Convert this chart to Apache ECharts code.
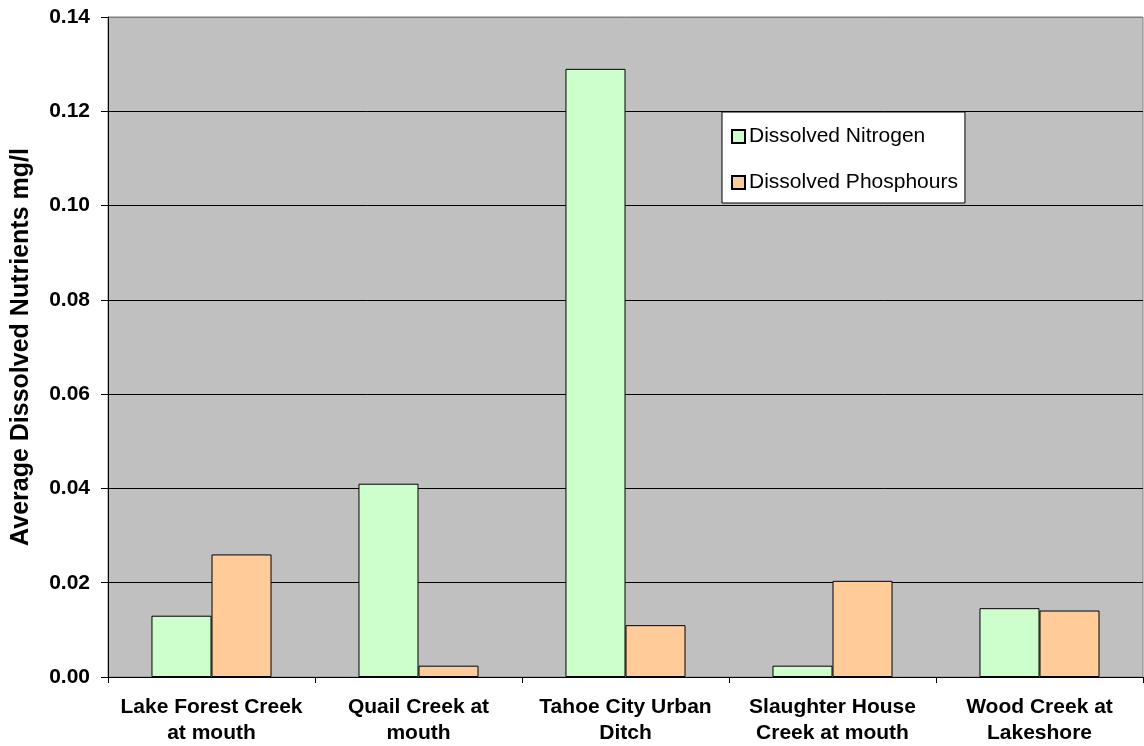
<!DOCTYPE html>
<html>
<head>
<meta charset="utf-8">
<script src="https://cdn.jsdelivr.net/npm/echarts@6/dist/echarts.min.js"></script>
<style>
html,body{margin:0;padding:0;background:#fff;}
#chart{width:1144px;height:746px;}
</style>
</head>
<body>
<div id="chart"></div>
<script>
var categories = [
  'Lake Forest Creek\nat mouth',
  'Quail Creek at\nmouth',
  'Tahoe City Urban\nDitch',
  'Slaughter House\nCreek at mouth',
  'Wood Creek at\nLakeshore'
];
var nitrogen = [0.013, 0.041, 0.129, 0.0024, 0.0146];
var phosphorus = [0.026, 0.0024, 0.011, 0.0204, 0.0141];
var seriesNames = ['Dissolved Nitrogen', 'Dissolved Phosphours'];
var yAxisTitle = 'Average Dissolved Nutrients mg/l';

var FONT = '"Liberation Sans", Arial, sans-serif';
var chart = echarts.init(document.getElementById('chart'), null, {renderer: 'canvas'});
chart.setOption({
  animation: false,
  backgroundColor: '#ffffff',
  textStyle: {fontFamily: FONT},
  grid: {
    left: 108, right: 1, top: 17, bottom: 69,
    show: true, backgroundColor: '#c0c0c0', borderColor: '#808080', borderWidth: 1
  },
  legend: {
    orient: 'vertical',
    left: 722, top: 112,
    padding: [14, 7, 10, 9],
    itemGap: 25,
    itemWidth: 13, itemHeight: 13,
    backgroundColor: '#ffffff',
    borderColor: '#000000', borderWidth: 1,
    textStyle: {fontFamily: FONT, fontSize: 21, color: '#000', padding: [0, 0, 0, -1]},
    data: seriesNames.map(function (n) { return {name: n, icon: 'rect'}; })
  },
  xAxis: {
    type: 'category',
    data: categories,
    axisLine: {lineStyle: {color: '#000', width: 1}},
    axisTick: {show: true, length: 6, alignWithLabel: false, lineStyle: {color: '#000'}},
    axisLabel: {
      interval: 0, margin: 17,
      fontFamily: FONT, fontSize: 21, fontWeight: 'bold', color: '#000', lineHeight: 26
    },
    splitLine: {show: false}
  },
  yAxis: {
    type: 'value',
    min: 0, max: 0.14, interval: 0.02,
    name: yAxisTitle,
    nameLocation: 'middle',
    nameGap: 74,
    nameTextStyle: {fontFamily: FONT, fontSize: 25, fontWeight: 'bold', color: '#000'},
    axisLine: {show: true, lineStyle: {color: '#000', width: 1}},
    axisTick: {show: true, length: 7, lineStyle: {color: '#000'}},
    axisLabel: {
      margin: 18,
      fontFamily: FONT, fontSize: 21, fontWeight: 'bold', color: '#000',
      formatter: function (v) { return v.toFixed(2); }
    },
    splitLine: {
      show: true,
      lineStyle: {color: ['#000', '#000', '#000', '#000', '#000', '#000', '#000', '#808080'], width: 1}
    }
  },
  series: [
    {
      name: seriesNames[0],
      type: 'bar',
      data: nitrogen,
      barGap: '0%',
      barCategoryGap: '42%',
      itemStyle: {color: '#ccffcc', borderColor: '#000', borderWidth: 1}
    },
    {
      name: seriesNames[1],
      type: 'bar',
      data: phosphorus,
      barGap: '0%',
      barCategoryGap: '42%',
      itemStyle: {color: '#ffcc99', borderColor: '#000', borderWidth: 1}
    }
  ]
});
</script>
</body>
</html>
